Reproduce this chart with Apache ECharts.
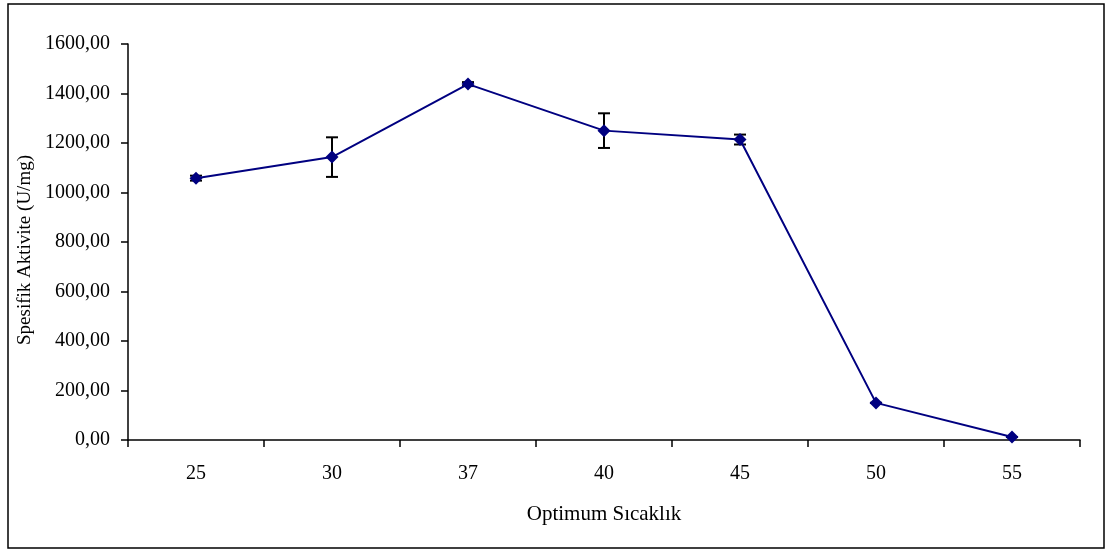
<!DOCTYPE html>
<html><head><meta charset="utf-8">
<script src="https://cdn.jsdelivr.net/npm/echarts@6/dist/echarts.min.js"></script>
<style>html,body{margin:0;padding:0;background:#fff}#c{width:1111px;height:551px}</style>
</head><body><div id="c"></div>
<script>
const categories = ['25','30','37','40','45','50','55'];
const values = [1058, 1143, 1438, 1250, 1214, 150, 12];
const errors = [10, 80, 8, 70, 20, 0, 0];
const yTicks = [0, 200, 400, 600, 800, 1000, 1200, 1400, 1600];

const chart = echarts.init(document.getElementById('c'));
const font = 'Liberation Serif, Times New Roman, serif';
chart.setOption({
  animation: false,
  textStyle: {fontFamily: font},
  graphic: [{type:'rect', shape:{x:8,y:4,width:1096,height:544}, style:{fill:'none', stroke:'#000', lineWidth:1.5}}],
  grid: {left:128, right:31, top:44, bottom:111, containLabel:false, outerBoundsMode:'none'},
  xAxis: {
    type:'category', data: categories, boundaryGap: true,
    name:'Optimum Sıcaklık', nameLocation:'middle', nameGap:64,
    nameTextStyle:{fontFamily:font, fontSize:21, color:'#000'},
    axisLine:{lineStyle:{color:'#000', width:1.5}},
    axisTick:{show:true, length:7, lineStyle:{color:'#000', width:1.5}},
    axisLabel:{fontFamily:font, fontSize:20, color:'#000', margin:24}
  },
  yAxis: {
    type:'value', min: yTicks[0], max: yTicks[yTicks.length-1], interval: 200,
    name:'Spesifik Aktivite (U/mg)', nameLocation:'middle', nameGap:93,
    nameTextStyle:{fontFamily:font, fontSize:19, color:'#000', padding:[0,16,0,0]},
    axisLine:{show:true, lineStyle:{color:'#000', width:1.5}},
    axisTick:{show:true, length:7, lineStyle:{color:'#000', width:1.5}},
    splitLine:{show:false},
    axisLabel:{fontFamily:font, fontSize:20, color:'#000', margin:18,
      formatter: v => v.toFixed(2).replace('.', ',')}
  },
  series: [
    {type:'line', data: values, symbol:'diamond', symbolSize:13,
     lineStyle:{color:'#000080', width:2}, itemStyle:{color:'#000080'}, z:3},
    {type:'custom', data: values.map((v,i)=>[i, v - errors[i], v + errors[i]]), z:2,
     renderItem: function(params, api){
       const lo = api.coord([api.value(0), api.value(1)]);
       const hi = api.coord([api.value(0), api.value(2)]);
       const w = 6;
       const st = {stroke:'#000', lineWidth:2};
       return {type:'group', children:[
         {type:'line', shape:{x1:lo[0],y1:lo[1],x2:hi[0],y2:hi[1]}, style:st},
         {type:'line', shape:{x1:lo[0]-w,y1:lo[1],x2:lo[0]+w,y2:lo[1]}, style:st},
         {type:'line', shape:{x1:hi[0]-w,y1:hi[1],x2:hi[0]+w,y2:hi[1]}, style:st}
       ]};
     }}
  ]
});
</script></body></html>
